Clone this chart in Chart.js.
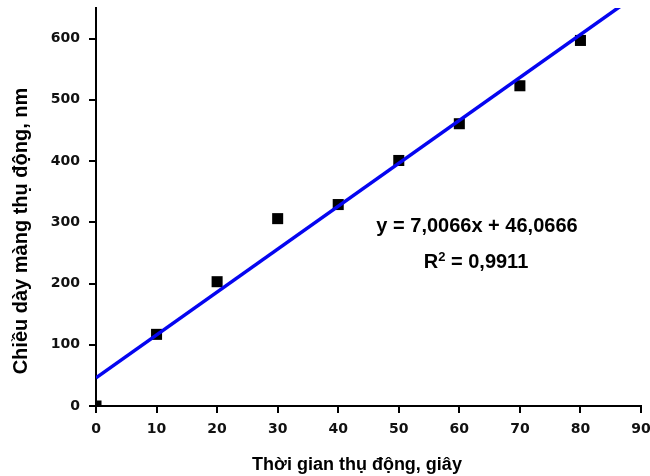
<!DOCTYPE html>
<html>
<head>
<meta charset="utf-8">
<script src="https://cdn.jsdelivr.net/npm/chart.js@4"></script>
<style>
  html, body { margin: 0; padding: 0; background: #fff; }
  #wrap { width: 650px; height: 476px; position: relative; }
</style>
</head>
<body>
<div id="wrap"><canvas id="passive-chart"></canvas></div>
<script>
  // passivation time (s) vs. passive film thickness (nm)
  const times = [0, 10, 20, 30, 40, 50, 60, 70, 80];
  const thickness = [0, 117, 203, 306, 329, 401, 461, 523, 597];
  const xTicks = [0, 10, 20, 30, 40, 50, 60, 70, 80, 90];
  const yTicks = [0, 100, 200, 300, 400, 500, 600];

  // linear fit as printed on the chart
  const slope = 7.0066;
  const intercept = 46.0666;
  const r2 = 0.9911;
  const fitRange = [0, 90];

  const xTitle = 'Thời gian thụ động, giây';
  const yTitle = 'Chiều dày màng thụ động, nm';

  const comma = (v, d) => v.toFixed(d).replace('.', ',');
  const titleFont = '"Liberation Sans", Arial, sans-serif';

  // axis titles + regression label, drawn on top of everything
  const labels = {
    id: 'labels',
    afterDraw(chart) {
      const { ctx } = chart;
      ctx.save();
      ctx.fillStyle = '#000';
      ctx.textBaseline = 'alphabetic';
      ctx.textAlign = 'center';

      ctx.font = `bold 18px ${titleFont}`;
      ctx.fillText(xTitle, 357, 470);

      ctx.save();
      ctx.translate(27, 231);
      ctx.rotate(-Math.PI / 2);
      ctx.font = `bold 20px ${titleFont}`;
      ctx.fillText(yTitle, 0, 0);
      ctx.restore();

      ctx.font = `bold 20px ${titleFont}`;
      ctx.fillText(`y = ${comma(slope, 4)}x + ${comma(intercept, 4)}`, 477, 232);

      // R² with a real superscript
      const big = `bold 20px ${titleFont}`;
      const small = `bold 13px ${titleFont}`;
      const rest = ` = ${comma(r2, 4)}`;
      ctx.font = big;
      const wR = ctx.measureText('R').width;
      const wRest = ctx.measureText(rest).width;
      ctx.font = small;
      const w2 = ctx.measureText('2').width;
      let x = 476 - (wR + w2 + wRest) / 2;
      ctx.textAlign = 'left';
      ctx.font = big;
      ctx.fillText('R', x, 268);
      x += wR;
      ctx.font = small;
      ctx.fillText('2', x, 261);
      x += w2;
      ctx.font = big;
      ctx.fillText(rest, x, 268);
      ctx.restore();
    }
  };

  const tickFont = { family: '"DejaVu Sans", Verdana, sans-serif', size: 14, weight: 'bold' };
  const axisLine = { color: '#000', width: 2 };
  const axisGrid = { drawOnChartArea: false, color: '#000', lineWidth: 2, tickLength: 7 };

  new Chart(document.getElementById('passive-chart'), {
    type: 'scatter',
    data: {
      datasets: [
        {
          label: 'fit',
          data: fitRange.map(x => ({ x, y: slope * x + intercept })),
          showLine: true,
          borderColor: '#0505f0',
          borderWidth: 3.5,
          pointRadius: 0,
          clip: 0,
        },
        {
          label: 'thickness',
          data: times.map((t, i) => ({ x: t, y: thickness[i] })),
          pointStyle: 'rect',
          pointRadius: 7.8,
          backgroundColor: '#000',
          borderColor: '#000',
          borderWidth: 0,
          clip: 0,
        },
      ],
    },
    options: {
      responsive: true,
      maintainAspectRatio: false,
      animation: false,
      layout: { padding: { top: 8, right: 9, left: 0, bottom: 0 } },
      plugins: { legend: { display: false }, tooltip: { enabled: false } },
      scales: {
        x: {
          type: 'linear',
          min: 0,
          max: 90,
          border: axisLine,
          grid: axisGrid,
          ticks: { color: '#111', font: tickFont, padding: 8, maxRotation: 0 },
          afterBuildTicks: (s) => { s.ticks = xTicks.map(v => ({ value: v })); },
          // labels may spill past the edge, keep the plot wide
          afterFit: (s) => { s.height = 70; s.paddingLeft = 0; s.paddingRight = 0; },
        },
        y: {
          type: 'linear',
          min: 0,
          max: 650,
          border: axisLine,
          grid: axisGrid,
          ticks: { color: '#111', font: tickFont, padding: 9 },
          afterBuildTicks: (s) => { s.ticks = yTicks.map(v => ({ value: v })); },
          afterFit: (s) => { s.width = 96; s.paddingTop = 0; s.paddingBottom = 0; },
        },
      },
    },
    plugins: [labels],
  });
</script>
</body>
</html>
